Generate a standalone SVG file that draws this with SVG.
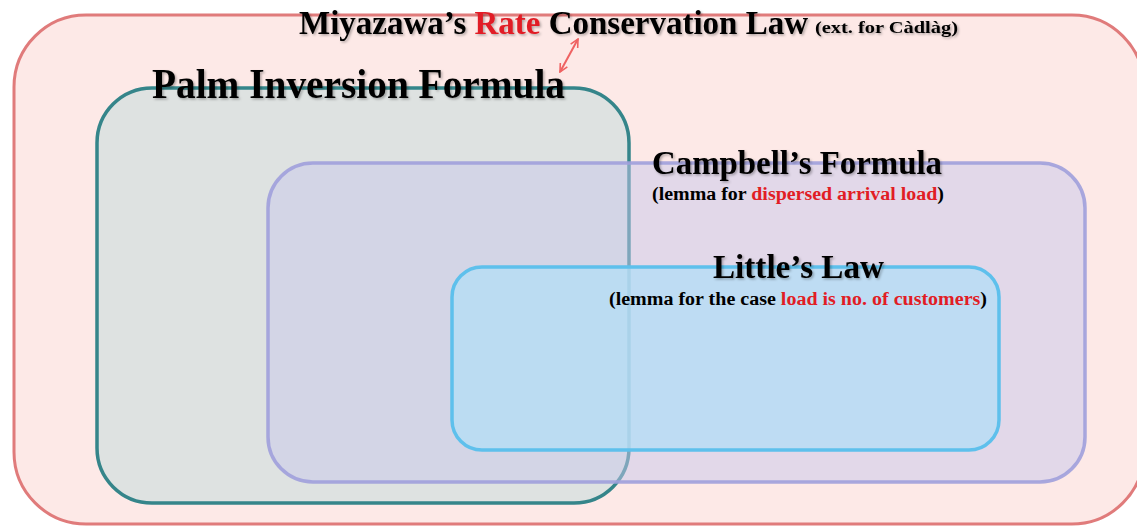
<svg xmlns="http://www.w3.org/2000/svg" width="1137" height="526" viewBox="0 0 1137 526">
<defs>
<style>
.t{font-family:"Liberation Serif","Times New Roman",serif;font-weight:bold;fill:#000}
.sh{filter:url(#ds)}
</style>
<filter id="ds" x="-5%" y="-30%" width="110%" height="160%">
<feDropShadow dx="1.5" dy="1.5" stdDeviation="1" flood-color="#000" flood-opacity="0.3"/>
</filter>
<marker id="ah" viewBox="0 0 10 10" refX="9" refY="5" markerWidth="5" markerHeight="5" orient="auto-start-reverse">
<path d="M1,1 L9,5 L1,9" fill="none" stroke="#ef6262" stroke-width="1.6"/>
</marker>
</defs>
<rect width="1137" height="526" fill="#fff"/>
<g id="miyazawa">
<rect x="14" y="15" width="1130" height="509" rx="72" fill="#fde9e7" stroke="#e07b7b" stroke-width="3"/>
<text class="t sh" x="299" y="34" font-size="34" textLength="509" lengthAdjust="spacingAndGlyphs">Miyazawa’s <tspan font-family="Liberation Serif, serif" fill="#e11d25">Rate</tspan> Conservation Law</text>
<text class="t sh" x="815" y="33" font-size="17" textLength="143" lengthAdjust="spacingAndGlyphs">(ext. for Càdlàg)</text>
</g>
<g id="palm">
<rect x="97" y="88" width="532" height="415" rx="55" fill="#c9dede" fill-opacity="0.6" stroke="#35858a" stroke-width="3.5"/>
<text class="t sh" x="152" y="98" font-size="42" textLength="413" lengthAdjust="spacingAndGlyphs">Palm Inversion Formula</text>
</g>
<g id="campbell">
<rect x="268" y="163" width="817" height="319" rx="45" fill="#c8c8ec" fill-opacity="0.5" stroke="#a0a0dc" stroke-width="3.5" stroke-opacity="0.9"/>
<text class="t sh" x="652" y="174" font-size="34" textLength="290" lengthAdjust="spacingAndGlyphs">Campbell’s Formula</text>
<text class="t" x="652" y="200" font-size="18" textLength="292" lengthAdjust="spacingAndGlyphs">(lemma for <tspan font-family="Liberation Serif, serif" fill="#e11d25">dispersed arrival load</tspan>)</text>
</g>
<g id="little">
<rect x="452" y="267" width="547" height="183" rx="30" fill="#b5ddf5" fill-opacity="0.8" stroke="#5ec0ec" stroke-width="3.5"/>
<text class="t sh" x="713" y="278" font-size="33" textLength="171" lengthAdjust="spacingAndGlyphs">Little’s Law</text>
<text class="t" x="609" y="305" font-size="18" textLength="378" lengthAdjust="spacingAndGlyphs">(lemma for the case <tspan font-family="Liberation Serif, serif" fill="#e11d25">load is no. of customers</tspan>)</text>
</g>
<g id="connectors">
<line x1="578" y1="39" x2="560" y2="72" stroke="#ef6262" stroke-width="2" marker-start="url(#ah)" marker-end="url(#ah)"/>
</g>
</svg>
